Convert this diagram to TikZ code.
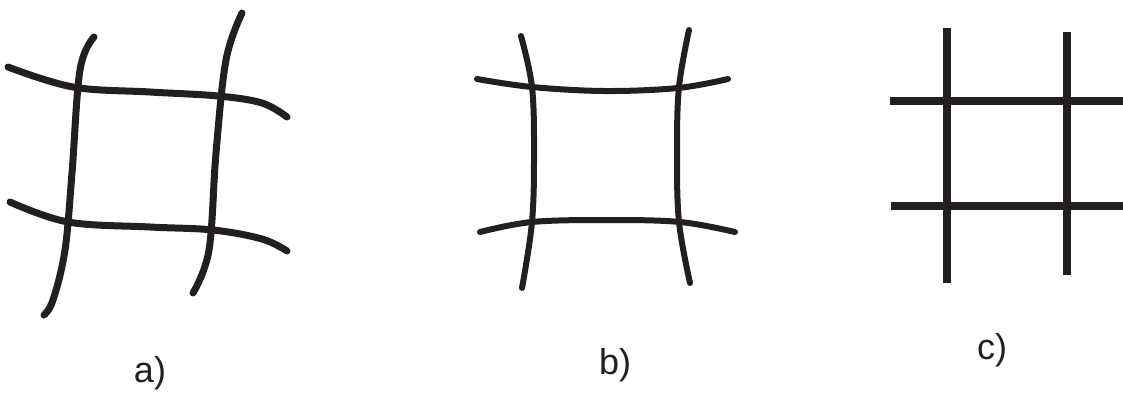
\documentclass[tikz,border=0pt]{standalone}
\usepackage{fontspec}
\setmainfont{Liberation Sans}
\usepackage{tikz}
\definecolor{ink}{RGB}{35,31,32}
\tikzset{
    x=1pt, y=-1pt, % pixel-like units, y pointing down
    stroke/.style={draw=ink, line width=7pt, line cap=round}, % hand drawn strokes
    thin stroke/.style={draw=ink, line width=6pt, line cap=round},
    bar/.style={draw=ink, line width=8pt, line cap=butt}, % straight bars
    caption/.style={font=\fontsize{36}{42}\selectfont, text=ink},
}
\begin{document}
\begin{tikzpicture}
  \useasboundingbox (0,0) rectangle (1123,394);

  % a) skewed grid
  \draw[stroke] plot[smooth, tension=0.6] coordinates {(8,67) (73,87) (150,92) (218,96) (262,103) (287,117)};
  \draw[stroke] plot[smooth, tension=0.6] coordinates {(10,202) (68,222) (150,227) (213,230) (262,239) (287,251)};
  \draw[stroke] plot[smooth, tension=0.6] coordinates {(94,37) (80,70) (72,173) (65,250) (53,300) (44,315)};
  \draw[stroke] plot[smooth, tension=0.6] coordinates {(242,13) (226,60) (216,153) (209,250) (193,293)};
  \node[caption] (la) at (150,373) {a)};

  % b) symmetric grid
  \draw[thin stroke] plot[smooth, tension=0.6] coordinates {(477,79) (532,87) (605,91) (678,88) (728,79)};
  \draw[thin stroke] plot[smooth, tension=0.6] coordinates {(480,232) (532,222) (607,220) (680,222) (735,232)};
  \draw[thin stroke] plot[smooth, tension=0.6] coordinates {(521,36) (532,87) (534,153) (532,222) (522,288)};
  \draw[thin stroke] plot[smooth, tension=0.6] coordinates {(689,30) (679,87) (677,153) (679,222) (690,283)};
  \node[caption] (lb) at (615,365) {b)};

  % c) straight grid
  \draw[bar] (947,28) -- (947,283);
  \draw[bar] (1067,32) -- (1067,275);
  \draw[bar] (890,101) -- (1123,101);
  \draw[bar] (891,206) -- (1123,206);
  \node[caption] (lc) at (992,350) {c)};
\end{tikzpicture}
\end{document}
